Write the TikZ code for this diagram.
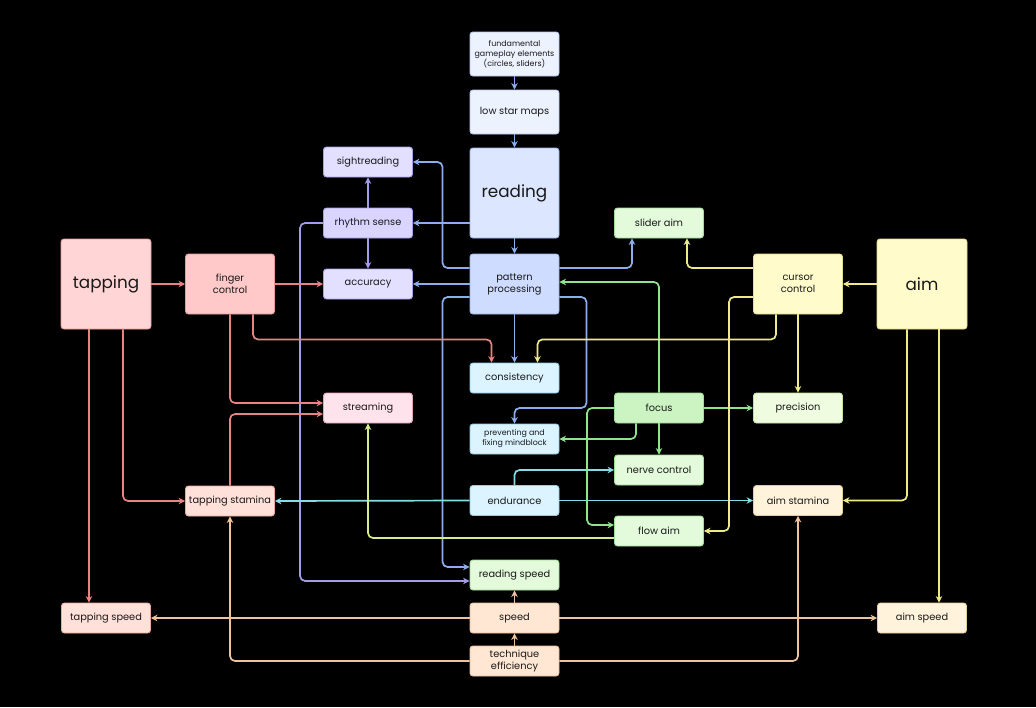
\documentclass[tikz,border=0pt]{standalone}
\usepackage{fontspec}
\setmainfont{Poppins}
\usepackage{tikz}
\usetikzlibrary{arrows.meta, positioning}

\definecolor{tapfill}{HTML}{FFD5D5}
\definecolor{fingfill}{HTML}{FFC9C9}
\definecolor{tapline}{HTML}{E39A9A}
\definecolor{tstfill}{HTML}{FFE1D9}
\definecolor{tstline}{HTML}{E5A99C}
\definecolor{strfill}{HTML}{FFE3EC}
\definecolor{strline}{HTML}{E3A3B6}
\definecolor{lavfill}{HTML}{E3DFFF}
\definecolor{rhyfill}{HTML}{DAD5FF}
\definecolor{lavline}{HTML}{A59EE6}
\definecolor{fundfill}{HTML}{EDF2FF}
\definecolor{fundline}{HTML}{B5C6EE}
\definecolor{readfill}{HTML}{DCE7FF}
\definecolor{patfill}{HTML}{CEDCFF}
\definecolor{readline}{HTML}{9DB6EC}
\definecolor{cyfill}{HTML}{DBF4FF}
\definecolor{cyline}{HTML}{8FCDE6}
\definecolor{grfill}{HTML}{E3FADB}
\definecolor{focfill}{HTML}{CBF4C2}
\definecolor{grline}{HTML}{9FDC96}
\definecolor{precfill}{HTML}{EFFCDF}
\definecolor{precline}{HTML}{C3E39D}
\definecolor{yelfill}{HTML}{FFFBCB}
\definecolor{yelline}{HTML}{E3DB92}
\definecolor{cremfill}{HTML}{FFF4DB}
\definecolor{cremline}{HTML}{E3CC9A}
\definecolor{pchfill}{HTML}{FFE7D3}
\definecolor{pchline}{HTML}{EBBE9C}

\definecolor{lblue}{HTML}{8DAEEE}
\definecolor{lpurple}{HTML}{A39CEB}
\definecolor{lred}{HTML}{E98282}
\definecolor{lcyan}{HTML}{84DCE4}
\definecolor{lgreen}{HTML}{8EE38B}
\definecolor{lyellow}{HTML}{EEEA8A}
\definecolor{llime}{HTML}{D3EC8C}
\definecolor{lpeach}{HTML}{EFC39B}

\tikzstyle{skill} = [rectangle, rounded corners=3pt, line width=0.9pt, minimum width=89pt, minimum height=30pt, inner sep=2pt, align=center, text=black!90, font=\fontsize{9.8}{12}\selectfont]
\tikzstyle{twoline} = [skill, minimum height=60pt]
\tikzstyle{bigskill} = [skill, minimum width=90pt, minimum height=90pt, font=\fontsize{16.8}{19}\selectfont]
\tikzstyle{smallskill} = [skill, font=\fontsize{7.9}{10}\selectfont]
\tikzstyle{link} = [line width=1.7pt, rounded corners=5pt, -{Stealth[length=6.5pt,width=6.5pt]}]

\begin{document}
\begin{tikzpicture}[x=1pt, y=-1pt]
	\fill[black] (0,0) rectangle (1036,707);
	\useasboundingbox (0,0) rectangle (1036,707);

	\node[smallskill, minimum height=44pt, fill=fundfill, draw=fundline] (fund) at (514.5,54) {fundamental\\gameplay elements\\(circles, sliders)};
	\node[skill, minimum height=44pt, fill=fundfill, draw=fundline] (lowstar) at (514.5,112) {low star maps};
	\node[bigskill, minimum width=89pt, fill=readfill, draw=readline] (reading) at (514.5,193) {reading};
	\node[twoline, fill=patfill, draw=readline] (pattern) at (514.5,284) {pattern\\processing};
	\node[skill, fill=cyfill, draw=cyline] (consist) at (514.5,378) {consistency};
	\node[smallskill, fill=cyfill, draw=cyline] (mindblock) at (514.5,439) {preventing and\\fixing mindblock};
	\node[skill, fill=cyfill, draw=cyline] (endur) at (514.5,500.5) {endurance};
	\node[skill, fill=grfill, draw=grline] (readspeed) at (514.5,575) {reading speed};
	\node[skill, fill=pchfill, draw=pchline] (speed) at (514.5,618) {speed};
	\node[skill, fill=pchfill, draw=pchline] (technique) at (514.5,661) {technique\\efficiency};

	\node[skill, fill=lavfill, draw=lavline] (sight) at (368,162) {sightreading};
	\node[skill, fill=rhyfill, draw=lavline] (rhythm) at (368,223) {rhythm sense};
	\node[skill, fill=lavfill, draw=lavline] (accuracy) at (368,284) {accuracy};
	\node[skill, fill=strfill, draw=strline] (streaming) at (368,408) {streaming};

	\node[bigskill, fill=tapfill, draw=tapline] (tapping) at (106,284) {tapping};
	\node[twoline, fill=fingfill, draw=tapline] (finger) at (230,284) {finger\\control};
	\node[skill, fill=tstfill, draw=tstline] (tapstam) at (230,501) {tapping stamina};
	\node[skill, fill=tstfill, draw=tstline] (tapspeed) at (106,618) {tapping speed};

	\node[skill, fill=grfill, draw=grline] (slideraim) at (659,223) {slider aim};
	\node[skill, fill=focfill, draw=grline] (focus) at (659,408) {focus};
	\node[skill, fill=grfill, draw=grline] (nerve) at (659,470) {nerve control};
	\node[skill, fill=grfill, draw=grline] (flowaim) at (659,531) {flow aim};

	\node[twoline, fill=yelfill, draw=yelline] (cursor) at (798,284) {cursor\\control};
	\node[skill, fill=precfill, draw=precline] (precision) at (798,408) {precision};
	\node[skill, fill=cremfill, draw=cremline] (aimstam) at (798,500.5) {aim stamina};
	\node[bigskill, fill=yelfill, draw=yelline] (aim) at (922,284) {aim};
	\node[skill, fill=cremfill, draw=cremline] (aimspeed) at (922,618) {aim speed};

	\draw[link, lblue] (fund) -- (lowstar);
	\draw[link, lblue] (lowstar) -- (reading);
	\draw[link, lblue] (reading) -- (pattern);
	\draw[link, lblue] (rhythm.east -| reading.west) -- (rhythm.east);
	\draw[link, lblue] (pattern.west) -- (accuracy.east);
	\draw[link, lblue] ([yshift=16pt]pattern.west) -- ++(-27,0) |- (sight.east);
	\draw[link, lblue] ([yshift=16pt]pattern.east) -| ([xshift=-27pt]slideraim.south);
	\draw[link, lblue] (pattern) -- (consist);
	\draw[link, lblue] ([yshift=-13pt]pattern.east) -- ++(27,0) -- ++(0,111) -| (mindblock.north);
	\draw[link, lblue] ([yshift=-13pt]pattern.west) -- ++(-27,0) |- ([yshift=8pt]readspeed.west);

	\draw[link, lpurple] (rhythm) -- (sight);
	\draw[link, lpurple] (rhythm) -- (accuracy);
	\draw[link, lpurple] (rhythm.west) -- ++(-23,0) |- ([yshift=-6pt]readspeed.west);

	\draw[link, lred] (tapping) -- (finger);
	\draw[link, lred] (finger) -- (accuracy);
	\draw[link, lred] ([xshift=23pt]finger.south) -- ++(0,25) -| ([xshift=-23pt]consist.north);
	\draw[link, lred] (finger.south) |- ([yshift=5pt]streaming.west);
	\draw[link, lred] (tapstam.north) |- ([yshift=-6pt]streaming.west);
	\draw[link, lred] ([xshift=17pt]tapping.south) |- (tapstam.west);
	\draw[link, lred] ([xshift=-17pt]tapping.south) -- ([xshift=-17pt]tapspeed.north);

	\draw[link, lcyan] (endur.west) -- (tapstam.east);
	\draw[link, lcyan] (endur.east) -- (aimstam.west);
	\draw[link, lcyan] (endur.north) |- (nerve.west);

	\draw[link, lgreen] (focus) -- (precision);
	\draw[link, lgreen] (focus) -- (nerve);
	\draw[link, lgreen] ([xshift=-23pt]focus.south) |- (mindblock.east);
	\draw[link, lgreen] (focus.west) -- ++(-27,0) |- ([yshift=6pt]flowaim.west);
	\draw[link, lgreen] (focus.north) |- ([yshift=2pt]pattern.east);

	\draw[link, lyellow] ([yshift=16pt]cursor.west) -| ([xshift=28pt]slideraim.south);
	\draw[link, lyellow] ([yshift=-13pt]cursor.west) -- ++(-24,0) |- (flowaim.east);
	\draw[link, lyellow] ([xshift=-22pt]cursor.south) -- ++(0,25) -| ([xshift=23pt]consist.north);
	\draw[link, lyellow] (cursor) -- (precision);
	\draw[link, lyellow] (aim) -- (cursor);
	\draw[link, lyellow] ([xshift=-15pt]aim.south) |- (aimstam.east);
	\draw[link, lyellow] ([xshift=17pt]aim.south) -- ([xshift=17pt]aimspeed.north);

	\draw[link, llime] ([yshift=-7pt]flowaim.west) -| (streaming.south);

	\draw[link, lpeach] (speed) -- (tapspeed);
	\draw[link, lpeach] (speed) -- (aimspeed);
	\draw[link, lpeach] (speed) -- (readspeed);
	\draw[link, lpeach] (technique) -- (speed);
	\draw[link, lpeach] (technique.west) -| (tapstam.south);
	\draw[link, lpeach] (technique.east) -| (aimstam.south);
\end{tikzpicture}
\end{document}
